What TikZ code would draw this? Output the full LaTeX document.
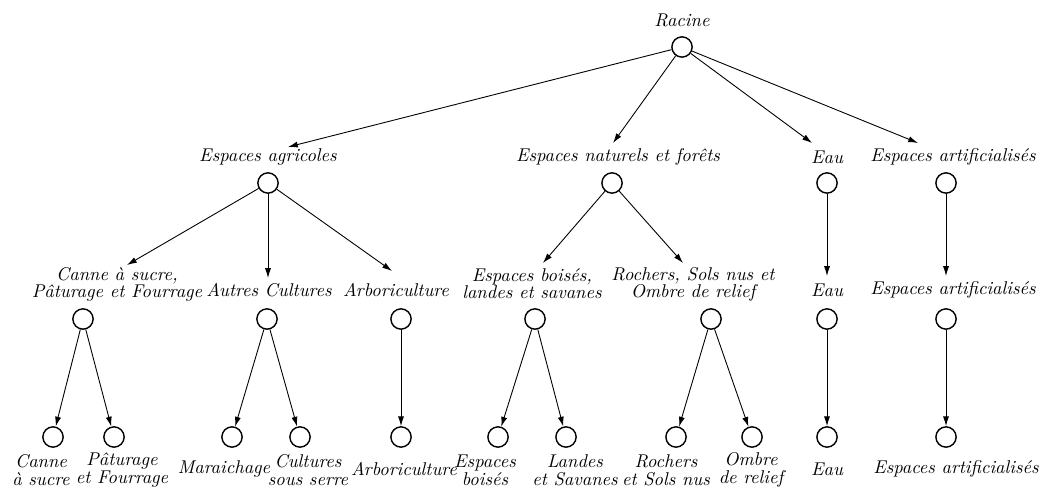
\documentclass[tikz,border=0pt]{standalone}
\usetikzlibrary{arrows.meta}
\begin{document}
\begin{tikzpicture}[x=0.5625pt,y=-0.5625pt,
  vert/.style={circle,draw,line width=0.8pt,minimum size=11.4pt,inner sep=0pt},
  lab/.style={font=\fontsize{10.4}{9.6}\selectfont\itshape,align=center,inner sep=2pt},
  leaf/.style={font=\fontsize{10.4}{10}\selectfont\itshape,align=center,inner sep=2pt},
  arr/.style={-{Latex[length=5.5pt,width=3.4pt]},line width=0.5pt}]
\useasboundingbox (0,0) rectangle (1041,488);
\clip (0,0) rectangle (1041,488);

% root
\node[vert] (r) at (682,47) {};
\node[lab] (rL) at (682,20) {Racine};

% first level
\node[vert] (a) at (268,183) {};
\node[lab] (aL) at (268,157) {Espaces agricoles};
\node[vert] (n) at (612,183) {};
\node[lab] (nL) at (618,157) {Espaces naturels et forêts};
\node[vert] (e) at (827,183) {};
\node[lab] (eL) at (827,157) {Eau};
\node[vert] (s) at (946,183) {};
\node[lab] (sL) at (953,157) {Espaces artificialisés};

% second level
\node[vert] (a1) at (83,319) {};
\node[lab] (a1L) at (117,284) {Canne à sucre,\\Pâturage et Fourrage};
\node[vert] (a2) at (267,319) {};
\node[lab] (a2L) at (269,290) {Autres Cultures};
\node[vert] (a3) at (401,319) {};
\node[lab] (a3L) at (396,290) {Arboriculture};
\node[vert] (n1) at (535,319) {};
\node[lab] (n1L) at (532,284) {Espaces boisés,\\landes et savanes};
\node[vert] (n2) at (711,319) {};
\node[lab] (n2L) at (693,284) {Rochers, Sols nus et\\Ombre de relief};
\node[vert] (e1) at (827,319) {};
\node[lab] (e1L) at (827,290) {Eau};
\node[vert] (s1) at (946,319) {};
\node[lab] (s1L) at (953,290) {Espaces artificialisés};

% third level
\node[vert] (a11) at (53,437) {};
\node[leaf] (a11L) at (41,470) {Canne\\à sucre};
\node[vert] (a12) at (114,437) {};
\node[leaf] (a12L) at (122,470) {Pâturage\\et Fourrage};
\node[vert] (a21) at (232,437) {};
\node[leaf] (a21L) at (224,469) {Maraichage};
\node[vert] (a22) at (300,437) {};
\node[leaf] (a22L) at (308,470) {Cultures\\sous serre};
\node[vert] (a31) at (401,437) {};
\node[leaf] (a31L) at (404,469) {Arboriculture};
\node[vert] (n11) at (498,437) {};
\node[leaf] (n11L) at (485,470) {Espaces\\boisés};
\node[vert] (n12) at (566,437) {};
\node[leaf] (n12L) at (575,470) {Landes\\et Savanes};
\node[vert] (n21) at (676,437) {};
\node[leaf] (n21L) at (666,470) {Rochers\\et Sols nus};
\node[vert] (n22) at (752,437) {};
\node[leaf] (n22L) at (751,470) {Ombre\\de relief};
\node[vert] (e11) at (827,437) {};
\node[leaf] (e11L) at (827,469) {Eau};
\node[vert] (s11) at (946,437) {};
\node[leaf] (s11L) at (956,469) {Espaces artificialisés};

% arrow tips just above the labels
\coordinate (taL) at (288,147);
\coordinate (tnL) at (613,143);
\coordinate (teL) at (812,143);
\coordinate (tsL) at (918,143);
\coordinate (ta1L) at (127,265);
\coordinate (ta2L) at (268,278);
\coordinate (ta3L) at (392,271);
\coordinate (tn1L) at (543,263);
\coordinate (tn2L) at (683,263);
\coordinate (te1L) at (827,276);
\coordinate (ts1L) at (946,276);

% edges
\foreach \p/\c in {r/aL,r/nL,r/eL,r/sL,a/a1L,a/a2L,a/a3L,n/n1L,n/n2L,e/e1L,s/s1L}
  \draw[arr] (\p) -- (t\c);
\foreach \p/\c in {a1/a11,a1/a12,a2/a21,a2/a22,a3/a31,n1/n11,n1/n12,n2/n21,n2/n22,e1/e11,s1/s11}
  \draw[arr] (\p) -- (\c);
\end{tikzpicture}
\end{document}
